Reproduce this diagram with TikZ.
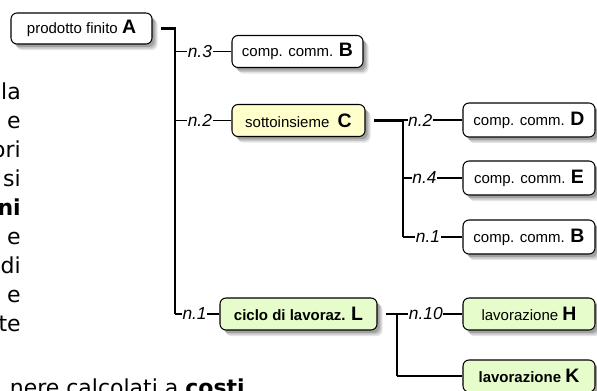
\documentclass[tikz,border=0pt]{standalone}
\usepackage{fontspec}
\setmainfont{Liberation Sans}
\newfontfamily\pagefont{DejaVu Sans}
\usetikzlibrary{shadows}
\definecolor{boxyellow}{HTML}{FFFFCC}
\definecolor{boxgreen}{HTML}{E6FCCB}
\tikzset{
  box/.style={draw=black, line width=0.8pt, rounded corners=4.5pt, fill=white,
    minimum height=24pt, inner sep=0pt, align=center,
    font=\fontsize{11.25}{13}\selectfont,
    drop shadow={shadow xshift=4.2pt, shadow yshift=-4.6pt, fill=black, opacity=0.10},
    drop shadow={shadow xshift=3.2pt, shadow yshift=-3.5pt, fill=black, opacity=0.14},
    drop shadow={shadow xshift=2.0pt, shadow yshift=-2.2pt, fill=black, opacity=0.18}},
  trunk/.style={draw=black, line width=1.7pt},
  branch/.style={draw=black, line width=1.3pt},
  lbl/.style={fill=white, inner sep=0.5pt, font=\fontsize{13}{15}\selectfont\itshape},
  frag/.style={anchor=base east, inner sep=0pt, font=\pagefont\fontsize{16.5}{20}\selectfont}
}
\newcommand{\bigletter}[1]{{\fontsize{14.6}{16}\selectfont\bfseries #1}}
\begin{document}
\begin{tikzpicture}[x=0.75pt,y=-0.75pt]
\useasboundingbox (0,0) rectangle (597,390);

% page text behind the diagram
\node[frag] (f1) at (21,99) {la};
\node[frag] (f2) at (21,128) {e};
\node[frag] (f3) at (21,157) {ori};
\node[frag] (f4) at (21,186) {si};
\node[frag] (f5) at (21,215) {\bfseries ni};
\node[frag] (f6) at (21,244) {e};
\node[frag] (f7) at (21,273) {di};
\node[frag] (f8) at (21,302) {e};
\node[frag] (f9) at (21,331) {te};
\node[frag] (f10) at (245,395) {nere calcolati a \textbf{costi}};

% boxes
\node[box, minimum width=105.75pt, minimum height=23.25pt] (A) at (81.5,28.5) {prodotto finito \bigletter{A}};
\node[box, minimum width=98.25pt] (B1) at (297.5,51.5) {comp. comm. \bigletter{B}};
\node[box, minimum width=99.75pt, fill=boxyellow] (C) at (298.5,120.5) {sottoinsieme \ \bigletter{C}};
\node[box, minimum width=99pt, minimum height=25.5pt] (D) at (529,120) {comp. comm. \bigletter{D}};
\node[box, minimum width=99pt, minimum height=25.5pt] (E) at (529,178) {comp. comm. \bigletter{E}};
\node[box, minimum width=99pt, minimum height=25.5pt] (B2) at (529,237) {comp. comm. \bigletter{B}};
\node[box, minimum width=117.75pt, fill=boxgreen] (L) at (298.5,314) {\bfseries ciclo di lavoraz. \bigletter{L}};
\node[box, minimum width=99pt, fill=boxgreen] (H) at (529,314) {lavorazione \bigletter{H}};
\node[box, minimum width=99pt, fill=boxgreen] (K) at (529,376) {\bfseries lavorazione \bigletter{K}};

% first level
\coordinate (j1) at (175,314);
\draw[trunk] ([xshift=6.5pt]A.east) -| (j1);
\draw[branch] (j1) -- node[lbl, pos=0.44] {n.1} (L.west);
\draw[branch] (j1 |- B1.west) -- node[lbl, pos=0.44] {n.3} (B1.west);
\draw[branch] (j1 |- C.west) -- node[lbl, pos=0.44] {n.2} (C.west);

% second level
\coordinate (j2) at (403,237);
\draw[trunk] ([xshift=6.5pt]C.east) -| (j2);
\draw[branch] (j2) -- node[lbl, pos=0.42] {n.1} (B2.west);
\draw[branch] (j2 |- D.west) -- node[lbl, pos=0.29] {n.2} (D.west);
\draw[branch] (j2 |- E.west) -- node[lbl, pos=0.36] {n.4} (E.west);

% third level
\coordinate (j3) at (397,376);
\draw[trunk] ([xshift=6.5pt]L.east) -| (j3);
\draw[branch] (j3) -- (K.west);
\draw[branch] (j3 |- H.west) -- node[lbl, pos=0.44] {n.10} (H.west);
\end{tikzpicture}
\end{document}
